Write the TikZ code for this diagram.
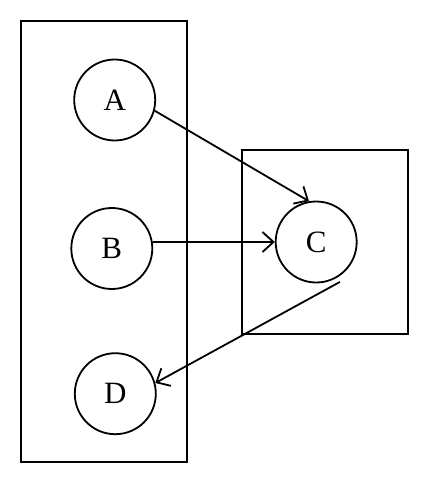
\documentclass[tikz,border=0pt]{standalone}
\usepackage{fontspec}
\setmainfont{Liberation Serif}
\usetikzlibrary{positioning,arrows.meta}

\tikzset{
  state/.style={draw, circle, line width=1.8pt, minimum size=81pt, inner sep=0pt,
    font=\fontsize{31}{36}\selectfont},
  group/.style={draw, rectangle, line width=1.8pt, inner sep=0pt},
  link/.style={line width=1.8pt, -{Straight Barb[length=11pt,width=20pt,line width=1.8pt]}}
}

\begin{document}
\begin{tikzpicture}[x=1pt, y=-1pt]
      \useasboundingbox (0,0) rectangle (429,484);

      \node[group, minimum width=165.7pt, minimum height=441.3pt] (left) at (103.9,241.7) {};
      \node[group, minimum width=166pt, minimum height=183.7pt] (right) at (324.7,242.2) {};

      \node[state] (A) at (114.7,100) {A};
      \node[state, below=65.7pt of A, xshift=-2.9pt] (B) {B};
      \node[state, below=62.4pt of B, xshift=3.5pt] (D) {D};
      \node[state, right=121.6pt of B, yshift=6.5pt] (C) {C};

      \draw[link] (A.-15) -- (C.100) ;
      \draw[link] (B.9) -- (C.180) ;
      \draw[link] ([yshift=-6pt]C.-55) -- (D.15) ;

\end{tikzpicture}
\end{document}
